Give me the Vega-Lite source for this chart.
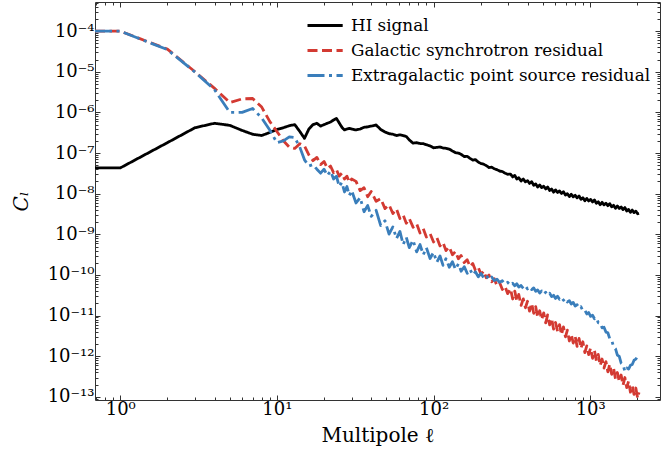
{
  "$schema": "https://vega.github.io/schema/vega-lite/v6.json",
  "width": 565,
  "height": 398,
  "autosize": "none",
  "padding": {"left": 95, "top": 2, "right": 2, "bottom": 61},
  "background": "white",
  "config": {
    "view": {"stroke": null},
    "font": "DejaVu Serif",
    "axis": {
      "grid": false,
      "labelOverlap": false,
      "labelFlush": false,
      "labelBound": false,
      "domainColor": "#333333",
      "domainWidth": 1,
      "tickColor": "#333333",
      "tickWidth": 1,
      "labelFont": "DejaVu Serif",
      "labelFontSize": 18,
      "labelColor": "#000000",
      "titleFont": "DejaVu Serif",
      "titleFontSize": 20,
      "titleFontWeight": "normal",
      "titleColor": "#000000"
    },
    "legend": {
      "symbolType": "M-1,0H3.4",
      "symbolSize": 256,
      "symbolStrokeWidth": 2.8,
      "labelFont": "DejaVu Serif",
      "labelFontSize": 16.8,
      "labelColor": "#000000",
      "labelOffset": 26,
      "labelLimit": 500,
      "rowPadding": 6,
      "padding": 0
    }
  },
  "data": {
    "values": [
      {"l":0.69,"H":4.3e-8,"G":1.0e-4,"E":1.0e-4},
      {"l":1,"H":4.3e-8,"G":1.0e-4,"E":1.0e-4},
      {"l":2,"H":1.8e-7,"G":3.6e-5,"E":3.5e-5},
      {"l":3,"H":4.2e-7,"G":1.0e-5,"E":9.8e-6},
      {"l":4,"H":5.4e-7,"G":3.9e-6,"E":3.6e-6},
      {"l":5,"H":4.8e-7,"G":1.75e-6,"E":1.0e-6},
      {"l":6,"H":3.6e-7,"G":2.15e-6,"E":1.0e-6},
      {"l":7,"H":2.9e-7,"G":2.2e-6,"E":1.25e-6},
      {"l":8,"H":2.7e-7,"G":1.35e-6,"E":7.3e-7},
      {"l":9,"H":3.2e-7,"G":6.0e-7,"E":3.7e-7},
      {"l":10,"H":3.8e-7,"G":3.4e-7,"E":1.8e-7},
      {"l":11,"H":4.2e-7,"G":2.0e-7,"E":2.0e-7},
      {"l":12,"H":4.7e-7,"G":1.4e-7,"E":2.5e-7},
      {"l":13,"H":5.0e-7,"G":1.3e-7,"E":2.4e-7},
      {"l":14,"H":3.4e-7,"G":1.7e-7,"E":1.4e-7},
      {"l":15,"H":2.3e-7,"G":1.5e-7,"E":6.8e-8},
      {"l":16,"H":3.9e-7,"G":9.0e-8,"E":4.8e-8},
      {"l":17,"H":5.0e-7,"G":6.5e-8,"E":5.2e-8},
      {"l":18,"H":5.4e-7,"G":7.8e-8,"E":4.0e-8},
      {"l":19,"H":4.6e-7,"G":5.2e-8,"E":3.2e-8},
      {"l":20,"H":5.0e-7,"G":6.2e-8,"E":4.0e-8},
      {"l":21,"H":5.4e-7,"G":4.2e-8,"E":2.8e-8},
      {"l":22,"H":5.8e-7,"G":4.8e-8,"E":3.6e-8},
      {"l":23,"H":6.5e-7,"G":3.3e-8,"E":2.3e-8},
      {"l":24,"H":7.1e-7,"G":3.9e-8,"E":2.7e-8},
      {"l":25,"H":5.5e-7,"G":2.7e-8,"E":1.5e-8},
      {"l":26,"H":4.3e-7,"G":3.2e-8,"E":1.9e-8},
      {"l":27,"H":3.7e-7,"G":2.3e-8,"E":1.1e-8},
      {"l":28,"H":3.9e-7,"G":2.7e-8,"E":1.5e-8},
      {"l":29,"H":4.05e-7,"G":1.9e-8,"E":9.0e-9},
      {"l":30,"H":3.9e-7,"G":2.3e-8,"E":1.2e-8},
      {"l":32,"H":3.7e-7,"G":2.01e-8,"E":5.9e-9},
      {"l":34,"H":3.9e-7,"G":1.19e-8,"E":8.0e-9},
      {"l":36,"H":4.3e-7,"G":1.40e-8,"E":3.6e-9},
      {"l":38,"H":4.4e-7,"G":8.4e-9,"E":5.1e-9},
      {"l":40,"H":4.6e-7,"G":1.13e-8,"E":2.76e-9},
      {"l":43,"H":4.9e-7,"G":6.5e-9,"E":3.9e-9},
      {"l":46,"H":3.8e-7,"G":7.6e-9,"E":1.65e-9},
      {"l":49,"H":3.3e-7,"G":4.3e-9,"E":2.16e-9},
      {"l":52,"H":3.0e-7,"G":5.3e-9,"E":1.01e-9},
      {"l":55,"H":2.9e-7,"G":3.25e-9,"E":1.52e-9},
      {"l":58,"H":2.7e-7,"G":4.2e-9,"E":7.9e-10},
      {"l":61,"H":2.8e-7,"G":2.46e-9,"E":1.18e-9},
      {"l":64,"H":2.7e-7,"G":2.99e-9,"E":5.6e-10},
      {"l":67,"H":2.55e-7,"G":1.87e-9,"E":8.5e-10},
      {"l":70,"H":2.1e-7,"G":2.45e-9,"E":4.7e-10},
      {"l":74,"H":1.75e-7,"G":1.5e-9,"E":7.2e-10},
      {"l":78,"H":1.8e-7,"G":1.83e-9,"E":3.7e-10},
      {"l":82,"H":1.72e-7,"G":1.08e-9,"E":5.6e-10},
      {"l":86,"H":1.7e-7,"G":1.38e-9,"E":3.15e-10},
      {"l":90,"H":1.6e-7,"G":8.6e-10,"E":4.7e-10},
      {"l":95,"H":1.5e-7,"G":1.05e-9,"E":2.55e-10},
      {"l":100,"H":1.35e-7,"G":6.5e-10,"E":3.6e-10},
      {"l":105,"H":1.38e-7,"G":8.3e-10,"E":2.07e-10},
      {"l":110,"H":1.41e-7,"G":5.2e-10,"E":2.94e-10},
      {"l":115,"H":1.33e-7,"G":6.3e-10,"E":1.73e-10},
      {"l":120,"H":1.31e-7,"G":3.98e-10,"E":2.52e-10},
      {"l":126,"H":1.25e-7,"G":4.9e-10,"E":1.55e-10},
      {"l":132,"H":1.12e-7,"G":3.14e-10,"E":2.12e-10},
      {"l":138,"H":1.02e-7,"G":3.77e-10,"E":1.38e-10},
      {"l":144,"H":1.0e-7,"G":2.5e-10,"E":1.87e-10},
      {"l":150,"H":9.3e-8,"G":3.02e-10,"E":1.24e-10},
      {"l":157,"H":8.2e-8,"G":2.02e-10,"E":1.6e-10},
      {"l":164,"H":8.3e-8,"G":2.37e-10,"E":1.1e-10},
      {"l":171,"H":7.4e-8,"G":1.61e-10,"E":1.37e-10},
      {"l":178,"H":6.7e-8,"G":1.91e-10,"E":1.0e-10},
      {"l":185,"H":6.9e-8,"G":1.3e-10,"E":1.2e-10},
      {"l":193,"H":6.0e-8,"G":1.53e-10,"E":9.06e-11},
      {"l":201,"H":5.5e-8,"G":1.04e-10,"E":1.09e-10},
      {"l":209,"H":5.3e-8,"G":1.25e-10,"E":8.5e-11},
      {"l":217,"H":4.9e-8,"G":8.55e-11,"E":9.8e-11},
      {"l":226,"H":4.4e-8,"G":1.0e-10,"E":7.7e-11},
      {"l":235,"H":4.5e-8,"G":6.8e-11,"E":8.9e-11},
      {"l":244,"H":4.1e-8,"G":8.1e-11,"E":7.3e-11},
      {"l":254,"H":3.9e-8,"G":5.5e-11,"E":7.9e-11},
      {"l":264,"H":3.6e-8,"G":6.5e-11,"E":6.6e-11},
      {"l":275,"H":3.5e-8,"G":4.4e-11,"E":7.2e-11},
      {"l":286,"H":3.2e-8,"G":5.3e-11,"E":6.0e-11},
      {"l":297,"H":3.0e-8,"G":3.47e-11,"E":6.6e-11},
      {"l":310,"H":3.03e-8,"G":4.55e-11,"E":5.58e-11},
      {"l":320,"H":2.58e-8,"G":2.57e-11,"E":6.24e-11},
      {"l":330,"H":2.82e-8,"G":4.01e-11,"E":5.42e-11},
      {"l":340,"H":2.30e-8,"G":2.27e-11,"E":6.07e-11},
      {"l":350,"H":2.47e-8,"G":3.32e-11,"E":5.05e-11},
      {"l":362,"H":2.05e-8,"G":1.78e-11,"E":5.51e-11},
      {"l":374,"H":2.30e-8,"G":2.58e-11,"E":4.67e-11},
      {"l":386,"H":1.95e-8,"G":1.56e-11,"E":5.33e-11},
      {"l":398,"H":2.09e-8,"G":2.26e-11,"E":4.53e-11},
      {"l":410,"H":1.79e-8,"G":1.29e-11,"E":5.08e-11},
      {"l":423,"H":1.97e-8,"G":2.0e-11,"E":4.37e-11},
      {"l":436,"H":1.61e-8,"G":1.14e-11,"E":4.82e-11},
      {"l":449,"H":1.74e-8,"G":1.66e-11,"E":3.95e-11},
      {"l":462,"H":1.46e-8,"G":9.02e-12,"E":4.28e-11},
      {"l":476,"H":1.64e-8,"G":1.32e-11,"E":3.58e-11},
      {"l":490,"H":1.41e-8,"G":8.02e-12,"E":4.06e-11},
      {"l":505,"H":1.52e-8,"G":1.17e-11,"E":3.40e-11},
      {"l":520,"H":1.31e-8,"G":6.64e-12,"E":3.76e-11},
      {"l":535,"H":1.46e-8,"G":1.04e-11,"E":3.23e-11},
      {"l":551,"H":1.20e-8,"G":5.90e-12,"E":3.57e-11},
      {"l":567,"H":1.30e-8,"G":8.59e-12,"E":2.93e-11},
      {"l":584,"H":1.09e-8,"G":4.65e-12,"E":3.16e-11},
      {"l":601,"H":1.24e-8,"G":6.78e-12,"E":2.65e-11},
      {"l":619,"H":1.07e-8,"G":4.11e-12,"E":3.0e-11},
      {"l":637,"H":1.17e-8,"G":6.0e-12,"E":2.52e-11},
      {"l":656,"H":1.01e-8,"G":3.40e-12,"E":2.79e-11},
      {"l":675,"H":1.12e-8,"G":5.31e-12,"E":2.39e-11},
      {"l":695,"H":9.25e-9,"G":3.01e-12,"E":2.65e-11},
      {"l":715,"H":1.0e-8,"G":4.40e-12,"E":2.17e-11},
      {"l":736,"H":8.49e-9,"G":2.38e-12,"E":2.34e-11},
      {"l":757,"H":9.68e-9,"G":3.48e-12,"E":1.94e-11},
      {"l":779,"H":8.38e-9,"G":2.12e-12,"E":2.12e-11},
      {"l":802,"H":9.12e-9,"G":3.08e-12,"E":1.73e-11},
      {"l":825,"H":7.89e-9,"G":1.75e-12,"E":1.85e-11},
      {"l":849,"H":8.81e-9,"G":2.74e-12,"E":1.54e-11},
      {"l":873,"H":7.28e-9,"G":1.56e-12,"E":1.65e-11},
      {"l":898,"H":7.94e-9,"G":2.28e-12,"E":1.32e-11},
      {"l":924,"H":6.71e-9,"G":1.23e-12,"E":1.36e-11},
      {"l":951,"H":7.66e-9,"G":1.80e-12,"E":1.10e-11},
      {"l":978,"H":6.64e-9,"G":1.10e-12,"E":1.19e-11},
      {"l":1006,"H":7.23e-9,"G":1.59e-12,"E":9.57e-12},
      {"l":1035,"H":6.27e-9,"G":8.91e-13,"E":1.02e-11},
      {"l":1065,"H":7.0e-9,"G":1.37e-12,"E":8.36e-12},
      {"l":1095,"H":5.79e-9,"G":7.71e-13,"E":8.87e-12},
      {"l":1126,"H":6.32e-9,"G":1.11e-12,"E":6.68e-12},
      {"l":1158,"H":5.36e-9,"G":5.94e-13,"E":6.58e-12},
      {"l":1191,"H":6.12e-9,"G":8.55e-13,"E":5.02e-12},
      {"l":1225,"H":5.32e-9,"G":5.14e-13,"E":5.18e-12},
      {"l":1260,"H":5.83e-9,"G":7.40e-13,"E":3.94e-12},
      {"l":1296,"H":5.07e-9,"G":4.15e-13,"E":3.78e-12},
      {"l":1333,"H":5.69e-9,"G":6.40e-13,"E":2.71e-12},
      {"l":1371,"H":4.73e-9,"G":3.59e-13,"E":2.50e-12},
      {"l":1410,"H":5.18e-9,"G":5.16e-13,"E":1.71e-12},
      {"l":1450,"H":4.38e-9,"G":2.77e-13,"E":1.54e-12},
      {"l":1491,"H":4.99e-9,"G":3.99e-13,"E":1.07e-12},
      {"l":1533,"H":4.33e-9,"G":2.40e-13,"E":9.89e-13},
      {"l":1576,"H":4.71e-9,"G":3.46e-13,"E":6.76e-13},
      {"l":1620,"H":4.07e-9,"G":1.94e-13,"E":6.12e-13},
      {"l":1665,"H":4.55e-9,"G":3.0e-13,"E":4.31e-13},
      {"l":1711,"H":3.76e-9,"G":1.69e-13,"E":5.19e-13},
      {"l":1758,"H":4.10e-9,"G":2.44e-13,"E":4.85e-13},
      {"l":1806,"H":3.47e-9,"G":1.31e-13,"E":6.0e-13},
      {"l":1855,"H":3.95e-9,"G":1.90e-13,"E":6.3e-13},
      {"l":1905,"H":3.42e-9,"G":1.15e-13,"E":8.0e-13},
      {"l":1956,"H":3.72e-9,"G":1.66e-13,"E":8.5e-13},
      {"l":2008,"H":3.21e-9,"G":9.35e-14,"E":1.02e-12},
      {"l":2048,"H":3.30e-9,"G":1.29e-13,"E":1.07e-12}
    ]
  },
  "transform": [{"fold": ["H", "G", "E"], "as": ["s", "C"]}],
  "layer": [
    {
      "transform": [{"filter": "datum.s == 'H'"}],
      "mark": {"type": "line", "strokeWidth": 2.8, "clip": true, "strokeJoin": "round"},
      "encoding": {
        "x": {
          "field": "l", "type": "quantitative",
          "scale": {"type": "log", "domain": [0.69, 2790], "nice": false},
          "axis": {
            "orient": "bottom",
            "tickCount": 40,
            "tickSize": {"condition": {"test": "abs(log(datum.value)/LN10-round(log(datum.value)/LN10))<0.001", "value": -5}, "value": -3},
            "labelPadding": 5,
            "labelExpr": "abs(log(datum.value)/LN10-round(log(datum.value)/LN10))<0.001 ? '10'+['⁰','¹','²','³'][round(log(datum.value)/LN10)] : ''",
            "title": "Multipole ℓ",
            "titlePadding": 5
          }
        },
        "y": {
          "field": "C", "type": "quantitative",
          "scale": {"type": "log", "domain": [8.4e-14, 5.2e-4], "nice": false},
          "axis": {
            "orient": "left",
            "tickCount": 100,
            "tickSize": {"condition": {"test": "abs(log(datum.value)/LN10-round(log(datum.value)/LN10))<0.001", "value": -5}, "value": -3},
            "labelPadding": 6,
            "labelExpr": "abs(log(datum.value)/LN10-round(log(datum.value)/LN10))<0.001 ? '10⁻'+['¹³','¹²','¹¹','¹⁰','⁹','⁸','⁷','⁶','⁵','⁴'][round(log(datum.value)/LN10)+13] : ''",
            "title": "Cₗ",
            "titleFontStyle": "italic",
            "titlePadding": 16
          }
        },
        "color": {
          "field": "s", "type": "nominal",
          "scale": {"domain": ["H", "G", "E"], "range": ["#000000", "#d33a32", "#3a7ebb"]},
          "legend": {"title": null, "orient": "none", "legendX": 211, "legendY": 14,
            "labelFont": "DejaVu Serif", "labelFontSize": 16.8, "labelColor": "#000000",
            "labelExpr": "datum.label == 'H' ? 'HI signal' : datum.label == 'G' ? 'Galactic synchrotron residual' : 'Extragalactic point source residual'"}
        },
        "strokeDash": {
          "field": "s", "type": "nominal",
          "scale": {"domain": ["H", "G", "E"], "range": [[1, 0], [10, 4.5], [17, 4.5, 3, 4.5]]},
          "legend": {"title": null, "orient": "none", "legendX": 211, "legendY": 14,
            "labelFont": "DejaVu Serif", "labelFontSize": 16.8, "labelColor": "#000000",
            "labelExpr": "datum.label == 'H' ? 'HI signal' : datum.label == 'G' ? 'Galactic synchrotron residual' : 'Extragalactic point source residual'"}
        }
      }
    },
    {
      "transform": [{"filter": "datum.s == 'G'"}],
      "mark": {"type": "line", "strokeWidth": 2.8, "clip": true, "strokeJoin": "round"},
      "encoding": {
        "x": {
          "field": "l", "type": "quantitative",
          "scale": {"type": "log", "domain": [0.69, 2790], "nice": false},
          "axis": {
            "orient": "top",
            "tickCount": 40,
            "tickSize": {"condition": {"test": "abs(log(datum.value)/LN10-round(log(datum.value)/LN10))<0.001", "value": -5}, "value": -3},
            "labels": false,
            "title": null
          }
        },
        "y": {
          "field": "C", "type": "quantitative",
          "scale": {"type": "log", "domain": [8.4e-14, 5.2e-4], "nice": false},
          "axis": {
            "orient": "right",
            "tickCount": 100,
            "tickSize": {"condition": {"test": "abs(log(datum.value)/LN10-round(log(datum.value)/LN10))<0.001", "value": -5}, "value": -3},
            "labels": false,
            "title": null
          }
        },
        "color": {
          "field": "s", "type": "nominal",
          "scale": {"domain": ["H", "G", "E"], "range": ["#000000", "#d33a32", "#3a7ebb"]}
        },
        "strokeDash": {
          "field": "s", "type": "nominal",
          "scale": {"domain": ["H", "G", "E"], "range": [[1, 0], [10, 4.5], [17, 4.5, 3, 4.5]]}
        }
      }
    },
    {
      "transform": [{"filter": "datum.s == 'E'"}],
      "mark": {"type": "line", "strokeWidth": 2.8, "clip": true, "strokeJoin": "round"},
      "encoding": {
        "x": {
          "field": "l", "type": "quantitative",
          "scale": {"type": "log", "domain": [0.69, 2790], "nice": false},
          "axis": null
        },
        "y": {
          "field": "C", "type": "quantitative",
          "scale": {"type": "log", "domain": [8.4e-14, 5.2e-4], "nice": false},
          "axis": null
        },
        "color": {
          "field": "s", "type": "nominal",
          "scale": {"domain": ["H", "G", "E"], "range": ["#000000", "#d33a32", "#3a7ebb"]}
        },
        "strokeDash": {
          "field": "s", "type": "nominal",
          "scale": {"domain": ["H", "G", "E"], "range": [[1, 0], [10, 4.5], [17, 4.5, 3, 4.5]]}
        }
      }
    }
  ],
  "resolve": {"axis": {"x": "independent", "y": "independent"}}
}
